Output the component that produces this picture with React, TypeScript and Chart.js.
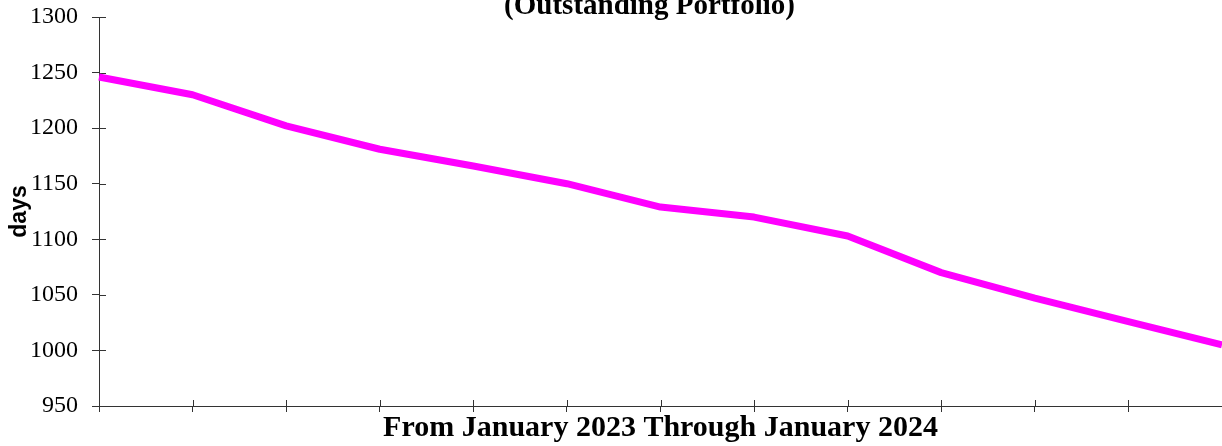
import React, { useEffect, useRef } from "react";
import { Chart, registerables } from "chart.js";

Chart.register(...registerables);

const months = [
  "Jan 2023", "Feb 2023", "Mar 2023", "Apr 2023", "May 2023", "Jun 2023", "Jul 2023",
  "Aug 2023", "Sep 2023", "Oct 2023", "Nov 2023", "Dec 2023", "Jan 2024",
];
const averageAgeDays = [1246, 1230, 1202, 1181, 1166, 1150, 1129, 1120, 1103, 1070, 1047, 1026, 1005];
const yMin = 950;
const yMax = 1300;
const yStep = 50;
const chartTitle = "(Outstanding Portfolio)";
const xTitle = "From January 2023 Through January 2024";
const yTitle = "days";

const AXIS = "#333333";
const LINE = "#ff00ff";

const innerTicksAndTitle = {
  id: "innerTicksAndTitle",
  beforeDatasetsDraw(chart: any) {
    const { ctx, chartArea, scales } = chart;
    const xs = scales.x;
    const ys = scales.y;
    ctx.save();
    ctx.strokeStyle = AXIS;
    ctx.lineWidth = 1;
    ctx.beginPath();
    xs.ticks.forEach((_: any, i: number) => {
      const px = Math.round(xs.getPixelForTick(i)) + 0.5;
      ctx.moveTo(px, chartArea.bottom);
      ctx.lineTo(px, chartArea.bottom - 6);
    });
    ys.ticks.forEach((_: any, i: number) => {
      const py = Math.round(ys.getPixelForTick(i)) + 0.5;
      ctx.moveTo(chartArea.left, py);
      ctx.lineTo(chartArea.left + 7, py);
    });
    ctx.stroke();
    ctx.restore();
  },
  afterDraw(chart: any) {
    const { ctx, chartArea } = chart;
    ctx.save();
    ctx.fillStyle = "#000";
    ctx.font = 'bold 29px "Liberation Serif"';
    ctx.textAlign = "center";
    ctx.textBaseline = "alphabetic";
    ctx.fillText(chartTitle, (chartArea.left + chartArea.right) / 2 - 11, 14);
    ctx.restore();
  },
};

export default function App() {
  const canvasRef = useRef<HTMLCanvasElement | null>(null);

  useEffect(() => {
    if (!canvasRef.current) return;
    const chart = new Chart(canvasRef.current, {
      type: "line",
      data: {
        labels: months,
        datasets: [
          {
            data: averageAgeDays,
            borderColor: LINE,
            backgroundColor: LINE,
            borderWidth: 7,
            pointRadius: 0,
            pointHoverRadius: 0,
            tension: 0,
            borderJoinStyle: "round",
            fill: false,
          },
        ],
      },
      options: {
        responsive: false,
        animation: false,
        layout: { padding: { top: 17, right: 0, bottom: 0, left: 0 } },
        plugins: {
          legend: { display: false },
          tooltip: { enabled: false },
          title: { display: false },
        },
        scales: {
          x: {
            type: "category",
            offset: false,
            grid: {
              display: true,
              drawOnChartArea: false,
              drawTicks: true,
              tickLength: 6,
              color: AXIS,
              lineWidth: 1,
            },
            border: { display: true, color: AXIS, width: 1 },
            ticks: { display: false },
            title: {
              display: true,
              text: xTitle,
              color: "#000",
              font: { family: "Liberation Serif", size: 30, weight: "bold" },
              padding: { top: 0, bottom: 0 },
            },
            afterFit: (s: any) => {
              s.height = 40;
              s.paddingLeft = 0;
              s.paddingRight = 0;
            },
          },
          y: {
            min: yMin,
            max: yMax,
            ticks: {
              stepSize: yStep,
              color: "#000",
              padding: 14,
              font: { family: "Liberation Serif", size: 24 },
              callback: (v: any) => String(v),
            },
            grid: {
              drawOnChartArea: false,
              drawTicks: true,
              tickLength: 7,
              color: AXIS,
              lineWidth: 1,
            },
            border: { display: true, color: AXIS, width: 1 },
            title: {
              display: true,
              text: yTitle,
              color: "#000",
              font: { family: "Liberation Sans", size: 23, weight: "bold" },
              padding: { top: 6, bottom: 0 },
            },
            afterFit: (s: any) => {
              s.width = 99;
              s.paddingTop = 0;
              s.paddingBottom = 0;
            },
          },
        },
      },
      plugins: [innerTicksAndTitle],
    } as any);
    return () => chart.destroy();
  }, []);

  return (
    <div style={{ position: "absolute", left: 0, top: 0, width: 1222, height: 446, background: "#fff" }}>
      <canvas ref={canvasRef} width={1222} height={446} style={{ display: "block" }} />
    </div>
  );
}
